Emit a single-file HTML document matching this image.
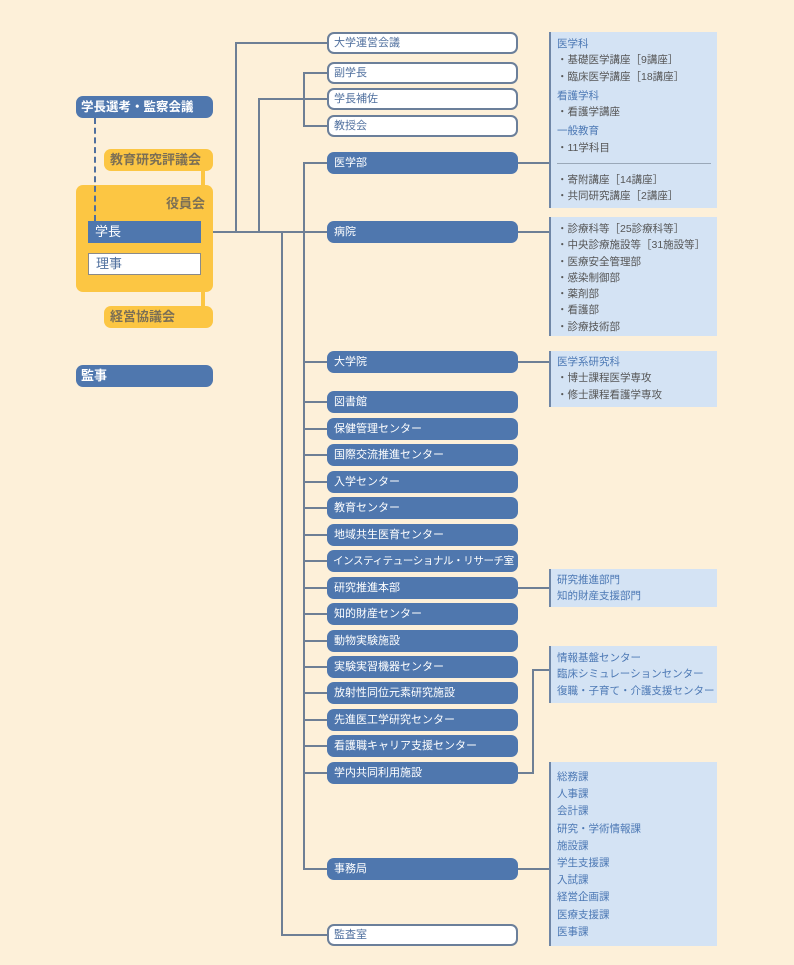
<!DOCTYPE html>
<html><head><meta charset="utf-8"><style>
*{margin:0;padding:0;box-sizing:border-box}
body{width:794px;height:965px;background:#fdf0d9;position:relative;overflow:hidden;font-family:"Liberation Sans","Noto Sans CJK JP",sans-serif}
.b{position:absolute;left:327px;width:191px;height:22px;border-radius:7px;background:#4f77ae;color:#fff;font-size:11px;line-height:22px;padding-left:7px;white-space:nowrap;overflow:hidden}
.w{background:#fff;color:#4f6f9e;border:2px solid #6b7f9a;line-height:18px;padding-left:5px}
.l{position:absolute;background:#6e7f95}
.p{position:absolute;left:549px;width:168px;background:#d4e3f4;border-left:2px solid #6f86a6;padding-left:6px;font-size:10.5px;color:#555;line-height:16.3px}
.p .h{color:#4c78b4}
.y{position:absolute;background:#fcc643;border-radius:7px;color:#7b6f55;font-weight:bold;font-size:13px}
.k{position:absolute;background:#4f77ae;color:#fff;border-radius:7px;font-weight:bold;font-size:13px;line-height:22px;padding-left:5px;white-space:nowrap}
</style></head><body>
<div class="l" style="left:201px;top:231px;width:126px;height:2px"></div>
<div class="l" style="left:235px;top:42px;width:2px;height:190px"></div>
<div class="l" style="left:235px;top:42px;width:92px;height:2px"></div>
<div class="l" style="left:258px;top:98px;width:2px;height:134px"></div>
<div class="l" style="left:258px;top:98px;width:69px;height:2px"></div>
<div class="l" style="left:303px;top:72px;width:2px;height:54px"></div>
<div class="l" style="left:303px;top:72px;width:24px;height:2px"></div>
<div class="l" style="left:303px;top:125px;width:24px;height:2px"></div>
<div class="l" style="left:281px;top:231px;width:2px;height:704px"></div>
<div class="l" style="left:281px;top:934px;width:46px;height:2px"></div>
<div class="l" style="left:303px;top:162px;width:2px;height:707px"></div>
<div class="l" style="left:303px;top:162px;width:24px;height:2px"></div>
<div class="l" style="left:303px;top:361px;width:24px;height:2px"></div>
<div class="l" style="left:303px;top:401px;width:24px;height:2px"></div>
<div class="l" style="left:303px;top:428px;width:24px;height:2px"></div>
<div class="l" style="left:303px;top:454px;width:24px;height:2px"></div>
<div class="l" style="left:303px;top:481px;width:24px;height:2px"></div>
<div class="l" style="left:303px;top:507px;width:24px;height:2px"></div>
<div class="l" style="left:303px;top:534px;width:24px;height:2px"></div>
<div class="l" style="left:303px;top:560px;width:24px;height:2px"></div>
<div class="l" style="left:303px;top:587px;width:24px;height:2px"></div>
<div class="l" style="left:303px;top:613px;width:24px;height:2px"></div>
<div class="l" style="left:303px;top:640px;width:24px;height:2px"></div>
<div class="l" style="left:303px;top:666px;width:24px;height:2px"></div>
<div class="l" style="left:303px;top:692px;width:24px;height:2px"></div>
<div class="l" style="left:303px;top:719px;width:24px;height:2px"></div>
<div class="l" style="left:303px;top:745px;width:24px;height:2px"></div>
<div class="l" style="left:303px;top:772px;width:24px;height:2px"></div>
<div class="l" style="left:303px;top:868px;width:24px;height:2px"></div>
<div class="l" style="left:518px;top:162px;width:31px;height:2px"></div>
<div class="l" style="left:518px;top:231px;width:31px;height:2px"></div>
<div class="l" style="left:518px;top:361px;width:31px;height:2px"></div>
<div class="l" style="left:518px;top:587px;width:31px;height:2px"></div>
<div class="l" style="left:518px;top:868px;width:31px;height:2px"></div>
<div class="l" style="left:518px;top:772px;width:16px;height:2px"></div>
<div class="l" style="left:532px;top:669px;width:2px;height:105px"></div>
<div class="l" style="left:532px;top:669px;width:17px;height:2px"></div>
<div class="k" style="left:76px;top:96px;width:137px;font-size:12.5px">学長選考・監察会議</div>
<div class="y" style="left:201px;top:168px;width:4px;height:140px;border-radius:0"></div>
<div class="y" style="left:104px;top:149px;width:109px;height:22px;line-height:22px;padding-left:6px">教育研究評議会</div>
<div class="y" style="left:76px;top:185px;width:137px;height:107px"><div style="position:absolute;right:8px;top:8px">役員会</div></div>
<div class="y" style="left:104px;top:306px;width:109px;height:22px;line-height:22px;padding-left:6px">経営協議会</div>
<div style="position:absolute;left:94px;top:118px;height:103px;border-left:2px dashed #4f6f9e"></div>
<div style="position:absolute;left:88px;top:221px;width:113px;height:22px;background:#4f77ae;color:#fff;font-size:13px;line-height:22px;padding-left:7px">学長</div>
<div style="position:absolute;left:88px;top:253px;width:113px;height:22px;background:#fff;border:1px solid #8a8a8a;color:#4f6f9e;font-size:13px;line-height:20px;padding-left:7px">理事</div>
<div class="k" style="left:76px;top:365px;width:137px">監事</div>
<div class="b w" style="top:32px">大学運営会議</div>
<div class="b w" style="top:62px">副学長</div>
<div class="b w" style="top:88px">学長補佐</div>
<div class="b w" style="top:115px">教授会</div>
<div class="b" style="top:152px">医学部</div>
<div class="b" style="top:221px">病院</div>
<div class="b" style="top:351px">大学院</div>
<div class="b" style="top:391px">図書館</div>
<div class="b" style="top:418px">保健管理センター</div>
<div class="b" style="top:444px">国際交流推進センター</div>
<div class="b" style="top:471px">入学センター</div>
<div class="b" style="top:497px">教育センター</div>
<div class="b" style="top:524px">地域共生医育センター</div>
<div class="b" style="top:550px;font-size:10.5px;letter-spacing:-0.4px;padding-left:6px">インスティテューショナル・リサーチ室</div>
<div class="b" style="top:577px">研究推進本部</div>
<div class="b" style="top:603px">知的財産センター</div>
<div class="b" style="top:630px">動物実験施設</div>
<div class="b" style="top:656px">実験実習機器センター</div>
<div class="b" style="top:682px">放射性同位元素研究施設</div>
<div class="b" style="top:709px">先進医工学研究センター</div>
<div class="b" style="top:735px">看護職キャリア支援センター</div>
<div class="b" style="top:762px">学内共同利用施設</div>
<div class="b" style="top:858px">事務局</div>
<div class="b w" style="top:924px">監査室</div>
<div class="p" style="top:32px;height:176px;padding-top:4px">
<div class="h">医学科</div><div>・基礎医学講座［9講座］</div><div>・臨床医学講座［18講座］</div>
<div class="h" style="margin-top:3px">看護学科</div><div>・看護学講座</div>
<div class="h" style="margin-top:3px">一般教育</div><div>・11学科目</div>
<div style="border-top:1px solid #9aa8b8;width:154px;margin:7px 0 8px"></div>
<div>・寄附講座［14講座］</div><div>・共同研究講座［2講座］</div></div>
<div class="p" style="top:217px;height:119px;padding-top:4px">
<div>・診療科等［25診療科等］</div><div>・中央診療施設等［31施設等］</div><div>・医療安全管理部</div><div>・感染制御部</div><div>・薬剤部</div><div>・看護部</div><div>・診療技術部</div></div>
<div class="p" style="top:351px;height:56px;padding-top:3px">
<div class="h">医学系研究科</div><div>・博士課程医学専攻</div><div>・修士課程看護学専攻</div></div>
<div class="p" style="top:569px;height:38px;padding-top:3px;color:#4c78b4">
<div>研究推進部門</div><div>知的財産支援部門</div></div>
<div class="p" style="top:646px;height:57px;padding-top:4px;color:#4c78b4">
<div>情報基盤センター</div><div>臨床シミュレーションセンター</div><div>復職・子育て・介護支援センター</div></div>
<div class="p" style="top:762px;height:184px;padding-top:7px;color:#4c78b4;line-height:17.2px">
<div>総務課</div><div>人事課</div><div>会計課</div><div>研究・学術情報課</div><div>施設課</div><div>学生支援課</div><div>入試課</div><div>経営企画課</div><div>医療支援課</div><div>医事課</div></div>
</body></html>
